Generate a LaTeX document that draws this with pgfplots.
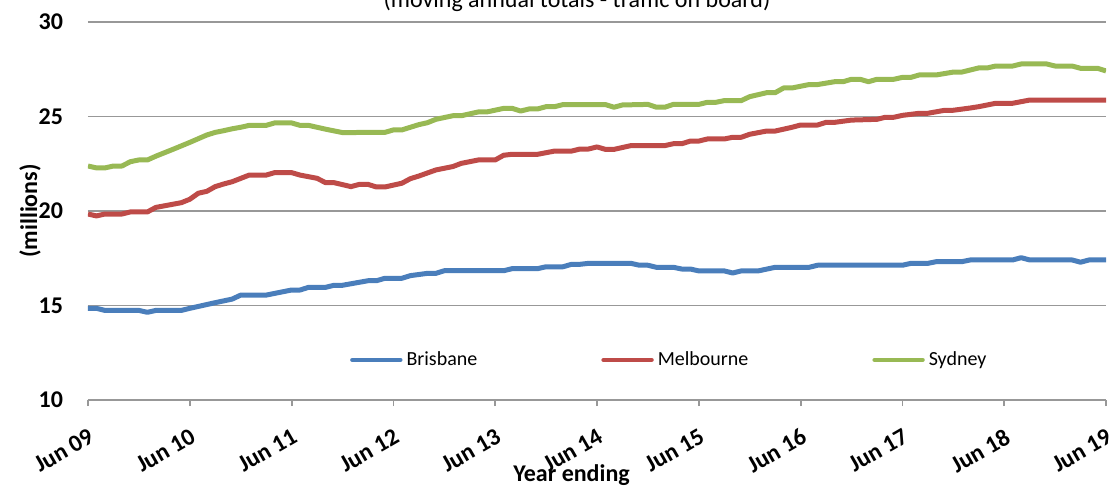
\documentclass[border=0pt]{standalone}
\usepackage{pgfplots}
\pgfplotsset{compat=1.18}
\usepackage{fontspec}
\setmainfont{Carlito}
\definecolor{cBri}{HTML}{4A7EBB}
\definecolor{cMel}{HTML}{BE4B48}
\definecolor{cSyd}{HTML}{98B954}
\definecolor{cGrid}{HTML}{989898}
\begin{document}
\begin{tikzpicture}
\begin{axis}[
  name=ax,
  scale only axis,
  width=509pt, height=189pt,
  xmin=0, xmax=120, ymin=10, ymax=30,
  xtick={0,12,...,120},
  xticklabels={Jun 09,Jun 10,Jun 11,Jun 12,Jun 13,Jun 14,Jun 15,Jun 16,Jun 17,Jun 18,Jun 19},
  ytick={10,15,20,25,30},
  /pgf/number format/assume math mode=true,
  tick label style={font=\bfseries\fontsize{12}{14}\selectfont},
  xticklabel style={rotate=30, anchor=north east, inner sep=1pt, xshift=-4.5pt, yshift=-8pt},
  yticklabel style={anchor=east, xshift=-6pt},
  axis x line*=bottom,
  axis y line*=left,
  y axis line style={draw=none},
  x axis line style={draw=cGrid, line width=0.9pt},
  ytick style={draw=none},
  xtick style={draw=cGrid, line width=0.9pt},
  tick align=outside,
  major tick length=3pt,
  ymajorgrids,
  major grid style={draw=cGrid, line width=0.9pt},
  every axis y label/.style={at={(axis description cs:-0.057,0.5)}, rotate=90, anchor=center, font=\bfseries\fontsize{12}{14}\selectfont},
  ylabel={(millions)},
  every axis x label/.style={at={(axis description cs:0.475,-0.2)}, anchor=center, font=\bfseries\fontsize{12}{14}\selectfont},
  xlabel={Year ending},
  legend style={at={(axis description cs:0.572,0.106)}, anchor=center, draw=none, fill=none,
    font=\fontsize{10}{12}\selectfont, legend columns=3,
    /tikz/every even column/.append style={column sep=60pt}},
  legend image code/.code={\draw[#1, line width=2.2pt, line cap=round] (0pt,0pt) -- (24pt,0pt);},
  every axis plot/.append style={line width=2.5pt, line join=round},
]
\addplot[cBri] coordinates {
(0,14.85)(1,14.85)(2,14.74)(6,14.74)(7,14.64)(8,14.74)(11,14.74)(12,14.85)(15,15.15)(17,15.34)(18,15.55)(21,15.55)(24,15.82)(25,15.82)(26,15.96)(28,15.96)(29,16.07)(30,16.07)(33,16.31)(34,16.31)(35,16.44)(37,16.44)(38,16.58)(40,16.70)(41,16.70)(42,16.84)(49,16.84)(50,16.95)(53,16.95)(54,17.05)(56,17.05)(57,17.18)(58,17.18)(59,17.23)(64,17.23)(65,17.13)(66,17.13)(67,17.02)(69,17.02)(70,16.93)(71,16.93)(72,16.83)(75,16.83)(76,16.72)(77,16.83)(79,16.83)(81,17.02)(85,17.02)(86,17.13)(96,17.13)(97,17.23)(99,17.23)(100,17.32)(103,17.32)(104,17.41)(109,17.41)(110,17.53)(111,17.41)(116,17.41)(117,17.29)(118,17.41)(120,17.41)
};
\addlegendentry{Brisbane}
\addplot[cMel] coordinates {
(0,19.84)(1,19.74)(2,19.84)(4,19.84)(5,19.95)(7,19.95)(8,20.19)(11,20.44)(12,20.62)(13,20.94)(14,21.04)(15,21.29)(16,21.43)(17,21.55)(19,21.90)(21,21.90)(22,22.03)(24,22.03)(25,21.90)(27,21.73)(28,21.50)(29,21.50)(31,21.29)(32,21.41)(33,21.41)(34,21.27)(35,21.27)(37,21.47)(38,21.71)(39,21.85)(41,22.17)(43,22.35)(44,22.52)(46,22.70)(48,22.70)(49,22.95)(50,23.00)(53,23.00)(55,23.17)(57,23.17)(58,23.28)(59,23.28)(60,23.39)(61,23.26)(62,23.26)(64,23.46)(68,23.46)(69,23.56)(70,23.56)(71,23.70)(72,23.70)(73,23.81)(75,23.81)(76,23.90)(77,23.90)(78,24.06)(80,24.23)(81,24.23)(83,24.43)(84,24.55)(86,24.55)(87,24.69)(88,24.69)(90,24.81)(93,24.85)(94,24.96)(95,24.96)(96,25.06)(98,25.17)(99,25.17)(101,25.33)(102,25.33)(104,25.45)(105,25.52)(107,25.70)(109,25.70)(111,25.87)(120,25.87)
};
\addlegendentry{Melbourne}
\addplot[cSyd] coordinates {
(0,22.38)(1,22.28)(2,22.28)(3,22.38)(4,22.38)(5,22.61)(6,22.70)(7,22.70)(8,22.90)(10,23.26)(12,23.63)(14,24.02)(15,24.16)(16,24.25)(17,24.35)(18,24.43)(19,24.53)(21,24.53)(22,24.66)(24,24.66)(25,24.53)(26,24.53)(28,24.33)(30,24.15)(35,24.16)(36,24.29)(37,24.29)(39,24.57)(40,24.67)(41,24.85)(43,25.04)(44,25.04)(46,25.24)(47,25.24)(49,25.43)(50,25.43)(51,25.29)(52,25.40)(53,25.40)(54,25.52)(55,25.52)(56,25.63)(61,25.63)(62,25.49)(63,25.61)(66,25.64)(67,25.49)(68,25.49)(69,25.64)(72,25.64)(73,25.75)(74,25.75)(75,25.84)(77,25.84)(78,26.05)(80,26.26)(81,26.26)(82,26.51)(83,26.51)(85,26.69)(86,26.69)(88,26.84)(89,26.84)(90,26.97)(91,26.97)(92,26.84)(93,26.97)(95,26.97)(96,27.07)(97,27.07)(98,27.20)(100,27.20)(102,27.35)(103,27.35)(105,27.57)(106,27.57)(107,27.67)(109,27.67)(110,27.78)(113,27.78)(114,27.67)(116,27.67)(117,27.55)(119,27.55)(120,27.41)
};
\addlegendentry{Sydney}
\end{axis}
\node[anchor=base, font=\fontsize{12}{14}\selectfont] at ([xshift=244.5pt,yshift=7pt]ax.north west) {(moving annual totals - traffic on board)};
\pgfresetboundingbox
\path[use as bounding box] ([xshift=-44pt,yshift=-43pt]ax.south west) rectangle ([xshift=2pt,yshift=11pt]ax.north east);
\end{tikzpicture}
\end{document}
